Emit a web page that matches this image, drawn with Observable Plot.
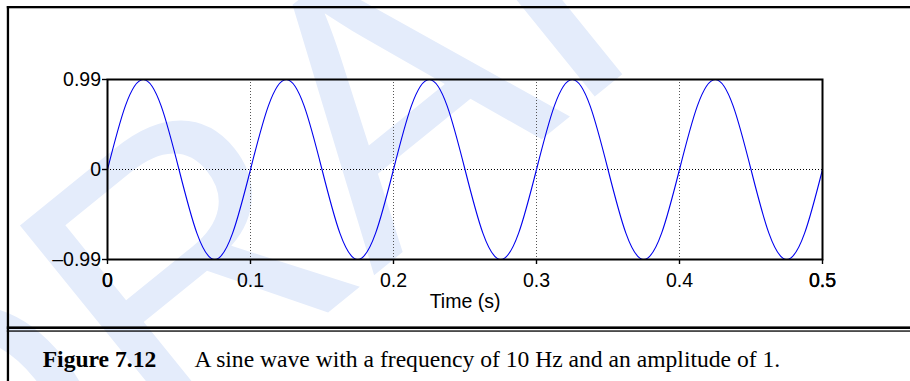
<!DOCTYPE html>
<html>
<head>
<meta charset="utf-8">
<script src="https://cdn.jsdelivr.net/npm/d3@7"></script>
<script src="https://cdn.jsdelivr.net/npm/@observablehq/plot@0.6"></script>
<style>
  html, body { margin: 0; padding: 0; background: #fff; }
  #page { position: relative; width: 910px; height: 381px; overflow: hidden; }
  #wm, #chart, #over { position: absolute; left: 0; top: 0; }
  #chart svg { background: transparent; }
</style>
</head>
<body>
<div id="page">
  <svg id="wm" width="910" height="381">
    <text id="wmText" transform="translate(-53,621) rotate(-39)" font-family="'Liberation Sans', Arial, sans-serif" font-size="380" fill="#e4ecfb"></text>
  </svg>
  <div id="chart"></div>
  <svg id="over" width="910" height="381">
    <rect x="6.8" y="6" width="2.3" height="380" fill="#000"></rect>
    <rect x="6.8" y="6" width="910" height="2.3" fill="#000"></rect>
    <rect x="6.8" y="326.4" width="910" height="2.6" fill="#000"></rect>
    <rect x="6.8" y="330.4" width="910" height="1.3" fill="#000"></rect>
    <g font-family="'Liberation Serif', 'Times New Roman', serif" font-size="23.6" fill="#000">
      <text id="capLabel" x="42.7" y="367.3" font-weight="bold"></text>
      <text id="capText" x="194.5" y="367.3"></text>
    </g>
  </svg>
</div>
<script>
// ---- data ----
const time = [0, 0.0125, 0.025, 0.0375, 0.05, 0.0625, 0.075, 0.0875,
  0.1, 0.1125, 0.125, 0.1375, 0.15, 0.1625, 0.175, 0.1875,
  0.2, 0.2125, 0.225, 0.2375, 0.25, 0.2625, 0.275, 0.2875,
  0.3, 0.3125, 0.325, 0.3375, 0.35, 0.3625, 0.375, 0.3875,
  0.4, 0.4125, 0.425, 0.4375, 0.45, 0.4625, 0.475, 0.4875, 0.5];
const amplitude = [0, 0.70, 0.99, 0.70, 0, -0.70, -0.99, -0.70,
  0, 0.70, 0.99, 0.70, 0, -0.70, -0.99, -0.70,
  0, 0.70, 0.99, 0.70, 0, -0.70, -0.99, -0.70,
  0, 0.70, 0.99, 0.70, 0, -0.70, -0.99, -0.70,
  0, 0.70, 0.99, 0.70, 0, -0.70, -0.99, -0.70, 0];
const xTicks = [0, 0.1, 0.2, 0.3, 0.4, 0.5];
const xTickLabels = ["0", "0.1", "0.2", "0.3", "0.4", "0.5"];
const xGrid = [0.1, 0.2, 0.3, 0.4];
const yTicks = [-0.99, 0, 0.99];
const yTickLabels = ["\u20130.99", "0", "0.99"];
const boldTicks = [0, 0.5];
const xLabel = "Time (s)";
const captionLabel = "Figure 7.12";
const captionText = "A sine wave with a frequency of 10 Hz and an amplitude of 1.";
const watermark = "DRAFT";

const data = time.map((t, i) => ({t, v: amplitude[i]}));
const H = 330;
const xFmt = d => xTickLabels[xTicks.indexOf(d)];
const yFmt = d => yTickLabels[yTicks.indexOf(d)];

const chart = Plot.plot({
  width: 910,
  height: H,
  marginLeft: 107,
  marginRight: 88,
  marginTop: 79,
  marginBottom: H - 259,
  style: {fontFamily: "'Liberation Sans', Arial, Helvetica, sans-serif", fontSize: "19.5px", color: "#000", background: "transparent", overflow: "visible"},
  x: {domain: [0, 0.5]},
  y: {domain: [-0.99, 0.99]},
  marks: [
    Plot.ruleX(xGrid, {stroke: "#555", strokeWidth: 1, strokeDasharray: "1,2"}),
    Plot.ruleY([0], {stroke: "#000", strokeWidth: 1, strokeDasharray: "1,2"}),
    Plot.line(data, {x: "t", y: "v", stroke: "#0000ee", strokeWidth: 1.1, curve: "natural"}),
    Plot.frame({stroke: "#000", strokeWidth: 2}),
    Plot.axisX(xTicks, {tickSize: 5, tickPadding: 9, tickFormat: xFmt, label: null, strokeWidth: 1.4}),
    Plot.text(boldTicks, {x: d => d, frameAnchor: "bottom", lineAnchor: "top", dy: 14, text: xFmt, fill: "#000", stroke: "#000", strokeWidth: 0.25}),
    Plot.axisY(yTicks, {tickSize: 5, tickPadding: 1.5, tickFormat: yFmt, label: null, strokeWidth: 1.4}),
    Plot.text([xLabel], {frameAnchor: "bottom", lineAnchor: "top", dy: 34.8, text: d => d, fill: "#000"})
  ]
});
document.getElementById("chart").appendChild(chart);
document.getElementById("capLabel").textContent = captionLabel;
document.getElementById("capText").textContent = captionText;
document.getElementById("wmText").textContent = watermark;
</script>
</body>
</html>
